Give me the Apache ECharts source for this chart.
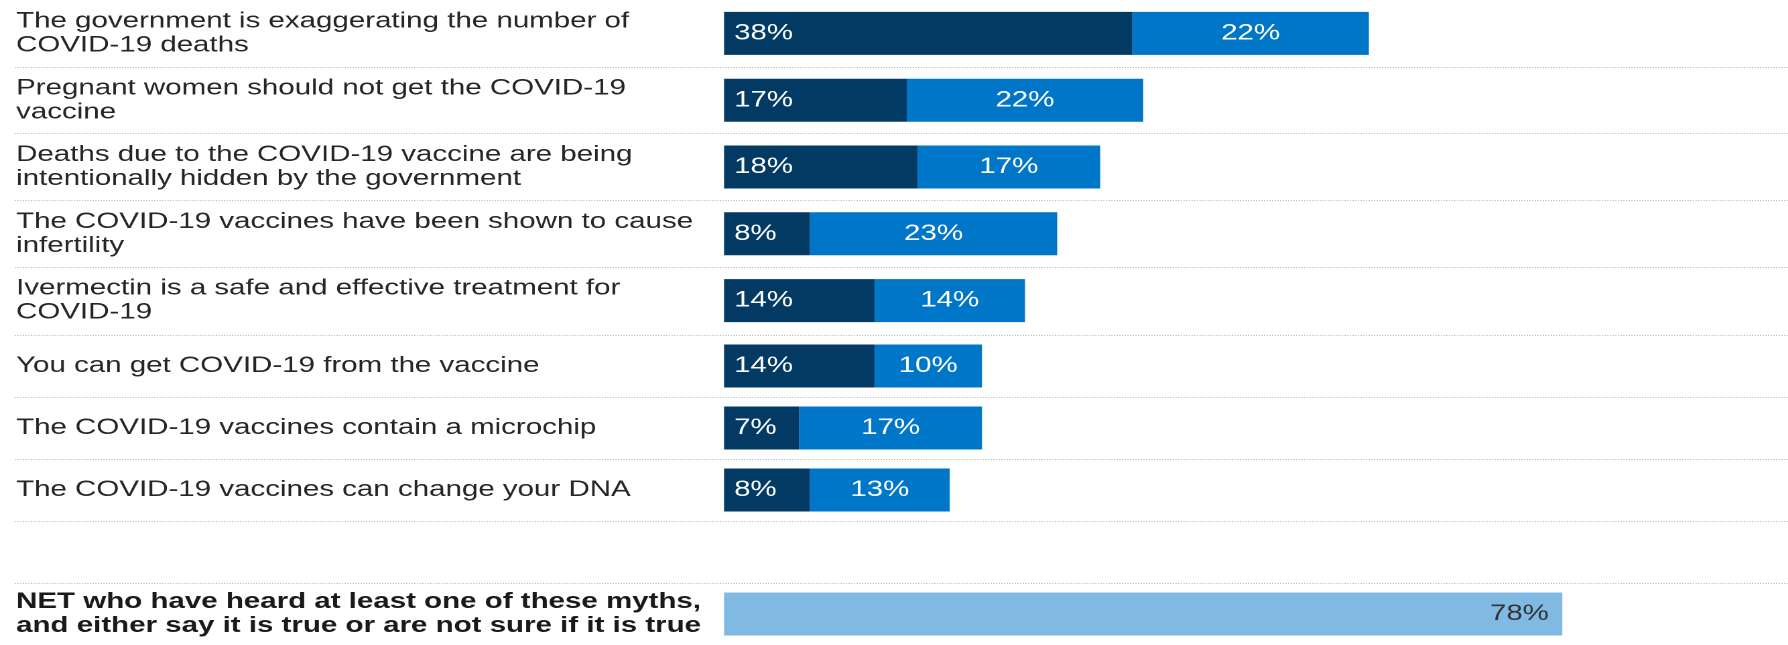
<!DOCTYPE html>
<html>
<head>
<meta charset="utf-8">
<script src="https://cdn.jsdelivr.net/npm/echarts@6/dist/echarts.min.js"></script>
<style>
  html, body { margin: 0; padding: 0; background: #ffffff; overflow: hidden; }
  #wrap { width: 1788px; height: 645px; overflow: hidden; }
  /* the chart is laid out narrow and widened horizontally */
  #chart { width: 1334px; height: 645px; transform-origin: 0 0; transform: scaleX(1.34033); }
</style>
</head>
<body>
<div id="wrap"><div id="chart"></div></div>
<script>
// Statements (two-line labels get taller rows than one-line labels)
const myths = [
  'The government is exaggerating the number of\nCOVID-19 deaths',
  'Pregnant women should not get the COVID-19\nvaccine',
  'Deaths due to the COVID-19 vaccine are being\nintentionally hidden by the government',
  'The COVID-19 vaccines have been shown to cause\ninfertility',
  'Ivermectin is a safe and effective treatment for\nCOVID-19',
  'You can get COVID-19 from the vaccine',
  'The COVID-19 vaccines contain a microchip',
  'The COVID-19 vaccines can change your DNA'
];
// Heard the myth and believe it is true (%)
const believeTrue = [38, 17, 18, 8, 14, 14, 7, 8];
// Heard the myth and not sure whether it is true (%)
const notSure = [22, 22, 17, 23, 14, 10, 17, 13];

const netLabel = 'NET who have heard at least one of these myths,\nand either say it is true or are not sure if it is true';
const netValue = 78;

const FONT = '"Liberation Sans", Arial, Helvetica, sans-serif';
const DARK = '#023a63';
const MID = '#0076c8';
const LIGHT = '#80bae3';
const TEXT = '#262626';

const SPLIT = 5; // first block: two-line statements
const catsA = myths.slice(0, SPLIT);
const catsB = myths.slice(SPLIT).concat(['', netLabel]);

const padNull = (arr) => arr.concat(new Array(catsB.length - arr.length).fill(null));
const trueB = padNull(believeTrue.slice(SPLIT));
const unsureB = padNull(notSure.slice(SPLIT));
const netB = catsB.map(c => (c === netLabel ? netValue : null));

function yAxis(gridIndex, cats, edgeLines) {
  return {
    type: 'category',
    gridIndex: gridIndex,
    inverse: true,
    data: cats.map(c => c === netLabel
      ? { value: c, textStyle: { fontWeight: 'bold', color: '#1a1a1a' } }
      : c),
    axisLine: { show: false },
    axisTick: { show: false },
    axisLabel: {
      inside: true, margin: 1, interval: 0, align: 'left',
      color: TEXT, fontSize: 22, lineHeight: 24, fontFamily: FONT
    },
    splitLine: {
      show: true, showMinLine: edgeLines, showMaxLine: edgeLines,
      lineStyle: { type: 'dotted', color: '#c6c6c6', width: 1 }
    }
  };
}

function xAxis(gridIndex) {
  return { type: 'value', gridIndex: gridIndex, min: -66, max: 99, show: false, splitLine: { show: false } };
}

const barLabel = (position, color) => ({
  show: true, position: position, distance: 7.5,
  formatter: p => p.value + '%',
  color: color, fontSize: 22, fontFamily: FONT
});

function bars(name, data, color, gi, stack, label) {
  return {
    name: name, type: 'bar', stack: stack, data: data,
    xAxisIndex: gi, yAxisIndex: gi, barWidth: 43,
    itemStyle: { color: color }, label: label,
    emphasis: { disabled: true }, animation: false
  };
}

const chart = echarts.init(document.getElementById('chart'), null, { devicePixelRatio: 2 });
chart.setOption({
  backgroundColor: '#ffffff',
  grid: [
    { left: 11, right: 0, top: -6, height: 340 },
    { left: 11, right: 0, top: 335, height: 315 }
  ],
  xAxis: [xAxis(0), xAxis(1)],
  yAxis: [yAxis(0, catsA, false), yAxis(1, catsB, true)],
  series: [
    bars('Heard and believe it is true', believeTrue.slice(0, SPLIT), DARK, 0, 'a', barLabel('insideLeft', '#ffffff')),
    bars('Heard and not sure if it is true', notSure.slice(0, SPLIT), MID, 0, 'a', barLabel('inside', '#ffffff')),
    bars('Heard and believe it is true', trueB, DARK, 1, 'b', barLabel('insideLeft', '#ffffff')),
    bars('Heard and not sure if it is true', unsureB, MID, 1, 'b', barLabel('inside', '#ffffff')),
    bars('NET', netB, LIGHT, 1, 'b', Object.assign(barLabel('insideRight', '#333333'), { distance: 10 }))
  ]
});
</script>
</body>
</html>
